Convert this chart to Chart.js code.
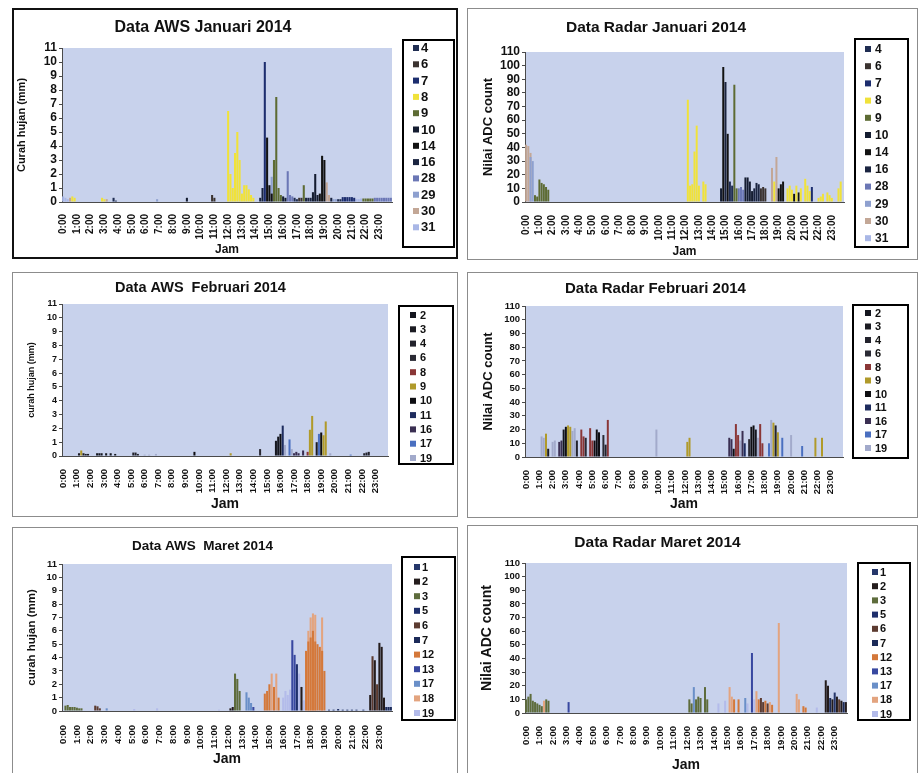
<!DOCTYPE html>
<html>
<head>
<meta charset="utf-8">
<script src="https://cdn.jsdelivr.net/npm/chart.js@4.4.1/dist/chart.umd.min.js"></script>
<style>
body{margin:0;background:#fff;width:922px;height:773px;overflow:hidden;position:relative}
.panel{position:absolute;box-sizing:border-box;background:#fff}
.panel canvas{position:absolute;left:0;top:0}
</style>
</head>
<body>
<div class="panel" id="p1"><canvas id="c1"></canvas></div>
<div class="panel" id="p2"><canvas id="c2"></canvas></div>
<div class="panel" id="p3"><canvas id="c3"></canvas></div>
<div class="panel" id="p4"><canvas id="c4"></canvas></div>
<div class="panel" id="p5"><canvas id="c5"></canvas></div>
<div class="panel" id="p6"><canvas id="c6"></canvas></div>
<script>
// hour tick labels, each hour split into 10 minute slots
var hours = ['0:00','1:00','2:00','3:00','4:00','5:00','6:00','7:00','8:00','9:00','10:00','11:00',
  '12:00','13:00','14:00','15:00','16:00','17:00','18:00','19:00','20:00','21:00','22:00','23:00']
var minutes = ['00','10','20','30','40','50']

// days in each month (legend)
var janDays = ['4','6','7','8','9','10','14','16','28','29','30','31']
var febDays = ['2','3','4','6','8','9','10','11','16','17','19']
var marDays = ['1','2','3','5','6','7','12','13','17','18','19']

var janColors = ['#1f2d52','#3b3330','#1c2d6e','#f0e23a','#5d6b33','#141c30','#121212','#1a2440','#6b77b5','#8ea0cf','#c3a796','#a9b7e6']
var febColors = ['#14161e','#1b1b22','#22222c','#2a2a34','#8a3636','#b09a2a','#0e0e12','#1e2c5e','#3a2f52','#4a6fc0','#a2aacb']
var marColors = ['#25366a','#241c1c','#5e6c3c','#1e2f6c','#5c3b30','#1b2a58','#d4783a','#3848a0','#6a8fc8','#e3a47f','#b3bbea']

// [slot (10 min), value] per day, same order as the day lists
var awsJan = [
  [[22,0.3],[23,0.1],[101,0.3],[102,0.2],[120,0.2],[121,0.2]],
  [[65,0.5],[66,0.3],[103,0.3],[104,0.3]],
  [[88,10.0],[122,0.35],[123,0.35],[124,0.35],[125,0.35],[126,0.35],[127,0.3]],
  [[4,0.4],[5,0.3],[17,0.3],[18,0.2],[72,6.5],[73,2.0],[74,1.0],[75,3.5],[76,5.0],[77,3.0],[78,0.6],[79,1.2],[80,1.2],[81,0.9],[82,0.5],[83,0.3]],
  [[92,3.0],[93,7.5],[94,1.0],[95,0.5],[105,1.2],[131,0.25],[132,0.25],[133,0.25],[134,0.25],[135,0.25]],
  [[54,0.3],[96,0.4],[97,0.3],[109,0.7],[110,2.0],[111,0.5]],
  [[89,4.6],[90,1.2],[91,0.6],[112,0.6],[113,3.3],[114,3.0]],
  [[86,0.3],[87,1.0],[106,0.3],[107,0.3],[108,0.3],[117,0.3]],
  [[98,2.2],[99,0.5],[100,0.4],[136,0.3],[137,0.3],[138,0.3],[139,0.3],[140,0.3],[141,0.3],[142,0.3],[143,0.3]],
  [[41,0.2],[91,1.8],[118,0.2],[119,0.2]],
  [[3,0.3],[19,0.2],[115,1.4],[116,0.5]],
  [[0,0.4],[1,0.3],[2,0.2],[128,0.2],[129,0.2],[130,0.25]]
]
var radarJan = [
  [[92,15],[93,12]],
  [[106,10],[107,11],[108,10]],
  [[129,11]],
  [[73,75],[74,12],[75,13],[76,37],[77,56],[78,12],[80,15],[81,13],[112,15],[118,10],[119,12],[120,9],[122,12],[124,10],[126,17],[127,12],[128,8],[132,3],[133,4],[134,6],[136,7],[137,5],[138,3],[141,10],[142,15]],
  [[4,5],[5,4],[6,16.5],[7,14],[8,13],[9,11],[10,9],[94,86],[95,10]],
  [[88,10],[99,18],[100,18],[101,15],[102,8]],
  [[89,99],[91,50],[114,10],[115,13],[116,15],[121,6],[123,7]],
  [[90,88],[103,10],[104,14],[105,13]],
  [[96,10],[97,11],[98,9]],
  [[2,33],[3,30]],
  [[0,42],[1,41],[2,36],[111,25],[113,33]],
  []
]
var awsFeb = [
  [[15,0.2],[16,0.2],[17,0.2],[19,0.2],[21,0.2],[23,0.15],[94,1.1],[95,1.4]],
  [[7,0.2],[9,0.2],[10,0.15],[11,0.15],[112,1.0]],
  [[31,0.25],[32,0.25],[33,0.15],[133,0.2],[134,0.25],[135,0.3]],
  [[87,0.5]],
  [[108,0.3]],
  [[8,0.4],[74,0.2],[109,1.9],[110,2.9],[115,1.5],[116,2.5]],
  [[58,0.3],[96,1.6],[114,1.7]],
  [[97,2.2]],
  [[102,0.2],[103,0.3],[104,0.2],[106,0.4]],
  [[100,1.2],[113,1.6],[127,0.1]],
  [[36,0.1],[38,0.1],[41,0.15],[98,0.8],[101,0.5],[118,0.2]]
]
var radarFeb = [
  [[17,20],[104,20]],
  [[10,6]],
  [[23,12],[36,9],[113,23]],
  [[27,14],[35,16],[101,13]],
  [[25,20],[26,15],[29,21],[30,12],[37,27],[95,24],[96,16],[106,24],[107,10]],
  [[9,17],[19,23],[20,22],[73,11],[74,14],[112,25],[114,18],[131,14],[134,14]],
  [[18,22],[31,12],[32,20],[33,18],[94,6],[102,22],[103,23]],
  [[99,10]],
  [[15,11],[16,12],[92,14],[93,13],[98,19]],
  [[110,10],[116,14],[125,8]],
  [[7,15],[8,14],[12,11],[13,12],[21,19],[22,21],[59,20],[97,12],[105,14],[111,27],[120,16]]
]
var awsMar = [
  [[116,0.1],[118,0.1],[120,0.15],[122,0.1],[124,0.1],[126,0.1],[128,0.1],[131,0.1]],
  [[73,0.2],[74,0.3],[104,1.8],[134,1.2],[136,3.8],[138,5.1],[139,4.8],[140,1.0]],
  [[1,0.4],[2,0.45],[3,0.3],[4,0.3],[5,0.3],[6,0.25],[7,0.2],[8,0.2],[75,2.8],[76,2.4],[77,1.5]],
  [[102,3.5]],
  [[14,0.4],[15,0.35],[16,0.2],[135,4.1],[137,2.0]],
  [[141,0.3],[142,0.3],[143,0.3]],
  [[88,1.3],[89,1.5],[90,2.0],[92,1.8],[94,1.0],[106,4.5],[107,5.2],[108,5.5],[109,6.0],[110,5.2],[111,5.0],[112,4.8],[113,4.5],[114,3.0]],
  [[83,0.3],[100,5.3],[101,4.2]],
  [[19,0.2],[80,1.4],[81,1.0],[82,0.6]],
  [[91,2.8],[93,2.8],[107,6.0],[108,7.0],[109,7.3],[110,7.2],[113,7.0]],
  [[31,0.15],[41,0.2],[68,0.1],[96,1.0],[97,1.5],[98,1.2],[99,1.6],[103,2.8],[105,0.8]]
]
var radarMar = [
  [[138,15]],
  [[134,24],[135,20],[137,10],[139,12],[141,9],[143,8]],
  [[0,10],[1,12],[2,14],[3,9],[4,8],[5,7],[6,6],[7,5],[9,10],[10,9],[73,10],[74,7],[76,10],[77,12],[78,11],[80,19],[81,10]],
  [],
  [[105,11],[106,8],[108,7],[140,10]],
  [[136,11],[142,8]],
  [[93,10],[95,10],[104,10],[107,9],[110,6],[124,5],[125,4]],
  [[19,8],[101,44]],
  [[75,19],[98,11]],
  [[8,9],[91,19],[92,12],[103,16],[109,8],[113,66],[121,14],[122,10]],
  [[86,7],[89,9],[99,7],[102,10],[130,4]]
]

var slots = []
hours.forEach(h => {
  var hh = h.split(':')[0]
  minutes.forEach(m => slots.push(hh + ':' + m))
})

var font = "'Liberation Sans', Arial, sans-serif"

// box: left, top, w, h, border, colour; area: left, right, top, bottom (canvas px)
// legend: x, y, w, h, first item y, step, marker x, text x, font size
var panels = [
  {id: 1, title: 'Data AWS Januari 2014', yTitle: 'Curah hujan (mm)', yMax: 11, yStep: 1, days: janDays, colors: janColors, series: awsJan,
   box: [12, 8, 446, 251, 2, '#111'], area: [48, 378, 38, 192], titleY: 18, titleSize: 16, tickSize: 12, xTickSize: 10, xPad: 4,
   yTitleSize: 11, yTitleX: 8, jamSize: 12, jamY: 240, legend: [389, 30, 51, 207, 38, 16.3, 402, 407, 13]},
  {id: 2, title: 'Data Radar Januari 2014', yTitle: 'Nilai ADC count', yMax: 110, yStep: 10, days: janDays, colors: janColors, series: radarJan,
   box: [467, 8, 451, 252, 1, '#8c8c8c'], area: [57, 376, 43, 193], titleY: 19, titleSize: 15.5, tickSize: 12, xTickSize: 10, xPad: 5,
   yTitleSize: 13, yTitleX: 20, jamSize: 12, jamY: 243, legend: [387, 30, 53, 208, 40, 17.2, 400, 407, 12]},
  {id: 3, title: 'Data AWS  Februari 2014', yTitle: 'curah hujan (mm)', yMax: 11, yStep: 1, days: febDays, colors: febColors, series: awsFeb,
   box: [12, 272, 446, 245, 1, '#8c8c8c'], area: [49, 375, 31, 183], titleY: 15, titleSize: 14.5, tickSize: 9, xTickSize: 9.5, xPad: 5,
   yTitleSize: 9, yTitleX: 19, jamSize: 14, jamY: 231, legend: [386, 33, 54, 158, 42, 14.3, 400, 407, 11]},
  {id: 4, title: 'Data Radar Februari 2014', yTitle: 'Nilai ADC count', yMax: 110, yStep: 10, days: febDays, colors: febColors, series: radarFeb,
   box: [467, 272, 451, 246, 1, '#8c8c8c'], area: [57, 375, 33, 184], titleY: 16, titleSize: 15, tickSize: 9.5, xTickSize: 9.5, xPad: 5,
   yTitleSize: 13, yTitleX: 20, jamSize: 14, jamY: 231, legend: [385, 32, 55, 153, 40, 13.5, 400, 407, 11]},
  {id: 5, title: 'Data AWS  Maret 2014', yTitle: 'curah hujan (mm)', yMax: 11, yStep: 1, days: marDays, colors: marColors, series: awsMar,
   box: [12, 527, 446, 252, 1, '#8c8c8c'], area: [49, 379, 36, 183], titleY: 18, titleSize: 13.5, tickSize: 9.5, xTickSize: 9.5, xPad: 6,
   yTitleSize: 11.5, yTitleX: 19, jamSize: 14, jamY: 231, legend: [389, 29, 53, 163, 39, 14.6, 404, 409, 11]},
  {id: 6, title: 'Data Radar Maret 2014', yTitle: 'Nilai ADC count', yMax: 110, yStep: 10, days: marDays, colors: marColors, series: radarMar,
   box: [467, 525, 451, 254, 1, '#8c8c8c'], area: [57, 379, 37, 187], titleY: 17, titleSize: 15.5, tickSize: 9.5, xTickSize: 9.5, xPad: 5,
   yTitleSize: 14, yTitleX: 19, jamSize: 14, jamY: 239, legend: [390, 37, 52, 157, 46, 14.2, 407, 412, 11]}
]

var plotBg = {
  id: 'plotBg',
  beforeDraw(chart) {
    var a = chart.chartArea, ctx = chart.ctx
    ctx.save()
    ctx.fillStyle = '#c8d2ec'
    ctx.fillRect(a.left, a.top, a.right - a.left, a.bottom - a.top)
    ctx.restore()
  }
}

// legend in a black box, like the excel one
var boxLegend = {
  id: 'boxLegend',
  afterDraw(chart, args, opts) {
    var l = opts.pos, ctx = chart.ctx
    ctx.save()
    ctx.fillStyle = '#fff'
    ctx.fillRect(l[0], l[1], l[2], l[3])
    ctx.strokeStyle = '#000'
    ctx.lineWidth = 2
    ctx.strokeRect(l[0], l[1], l[2], l[3])
    ctx.font = 'bold ' + l[8] + 'px ' + font
    ctx.textBaseline = 'middle'
    chart.data.datasets.forEach((ds, i) => {
      var y = l[4] + i * l[5]
      ctx.fillStyle = ds.backgroundColor
      ctx.fillRect(l[6] - 3, y - 3, 6, 6)
      ctx.fillStyle = '#111'
      ctx.fillText(ds.label, l[7], y + 0.5)
    })
    ctx.restore()
  }
}

panels.forEach(p => {
  var div = document.getElementById('p' + p.id)
  var b = p.box
  div.style.left = b[0] + 'px'
  div.style.top = b[1] + 'px'
  div.style.width = b[2] + 'px'
  div.style.height = b[3] + 'px'
  div.style.border = b[4] + 'px solid ' + b[5]
  var cw = b[2] - 2 * b[4], ch = b[3] - 2 * b[4]
  var cv = document.getElementById('c' + p.id)
  cv.width = cw
  cv.height = ch

  var tl = p.titleSize * 1.2
  var jl = p.jamSize * 1.2
  var yl = p.yTitleSize * 1.2

  new Chart(cv, {
    type: 'bar',
    data: {
      labels: slots,
      datasets: p.days.map((d, i) => ({
        label: d,
        backgroundColor: p.colors[i],
        data: p.series[i].map(v => ({x: slots[v[0]], y: v[1]})),
        grouped: false,
        categoryPercentage: 1,
        barPercentage: 0.9
      }))
    },
    options: {
      responsive: false,
      animation: false,
      layout: {padding: {left: 0, top: 0, bottom: 0, right: cw - p.area[1]}},
      plugins: {
        legend: {display: false},
        tooltip: {enabled: false},
        title: {
          display: true,
          text: p.title,
          color: '#111',
          font: {family: font, size: p.titleSize, weight: 'bold'},
          padding: {top: p.titleY - tl / 2, bottom: p.area[2] - p.titleY - tl / 2}
        },
        boxLegend: {pos: p.legend}
      },
      scales: {
        x: {
          grid: {display: false},
          border: {display: true, color: '#4a4a4a', width: 1},
          ticks: {
            autoSkip: false,
            minRotation: 90,
            maxRotation: 90,
            padding: p.xPad,
            color: '#111',
            font: {family: font, size: p.xTickSize, weight: 'bold'},
            callback: (v, i) => slots[i].endsWith(':00') ? slots[i] : null
          },
          title: {
            display: true,
            text: 'Jam',
            color: '#111',
            font: {family: font, size: p.jamSize, weight: 'bold'},
            padding: {top: 0, bottom: Math.max(0, ch - p.jamY - jl / 2)}
          },
          afterFit: s => { s.height = ch - p.area[3] }
        },
        y: {
          min: 0,
          max: p.yMax,
          grid: {display: true, drawOnChartArea: false, drawTicks: true, tickLength: 3, color: '#4a4a4a'},
          border: {display: true, color: '#4a4a4a', width: 1},
          ticks: {
            stepSize: p.yStep,
            autoSkip: false,
            padding: 2,
            color: '#111',
            font: {family: font, size: p.tickSize, weight: 'bold'}
          },
          title: {
            display: true,
            text: p.yTitle,
            color: '#111',
            font: {family: font, size: p.yTitleSize, weight: 'bold'},
            padding: {top: Math.max(0, p.yTitleX - yl / 2), bottom: 0}
          },
          afterFit: s => { s.width = p.area[0] }
        }
      }
    },
    plugins: [plotBg, boxLegend]
  })
})
</script>
</body>
</html>
